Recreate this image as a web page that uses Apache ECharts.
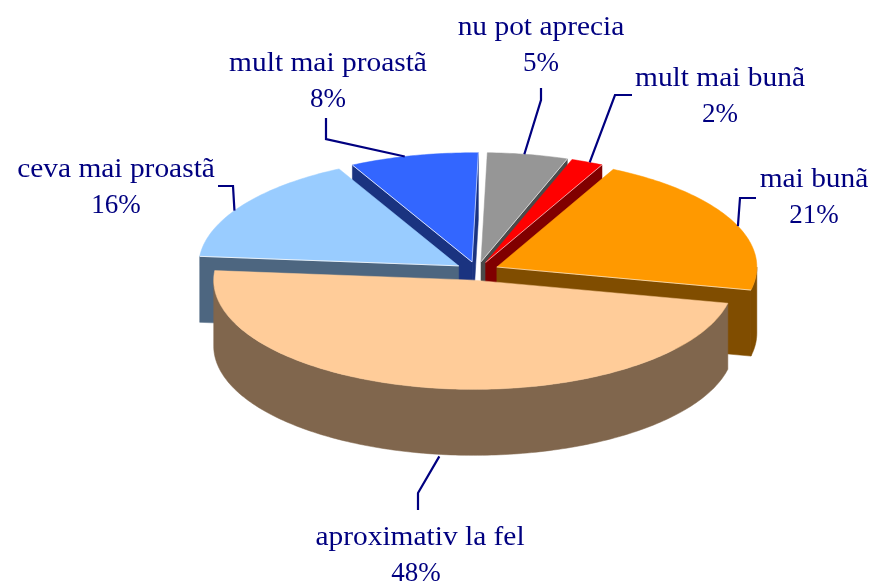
<!DOCTYPE html>
<html>
<head>
<meta charset="utf-8">
<style>html,body{margin:0;padding:0;background:#fff}#c{width:871px;height:584px}</style>
<script src="https://cdn.jsdelivr.net/npm/echarts@6/dist/echarts.min.js"></script>
</head>
<body>
<div id="c"></div>
<script>
// clockwise from the top of the pie
const categories = ['nu pot aprecia', 'mult mai bunã', 'mai bunã', 'aproximativ la fel', 'ceva mai proastã', 'mult mai proastã'];
const values = [5, 2, 21, 48, 16, 8];
const topColors = ['#969696', '#ff0000', '#ff9900', '#ffcc99', '#99ccff', '#3366ff'];
const sideColors = ['#4b4b4b', '#800000', '#804d00', '#80664d', '#4d6680', '#1a3380'];

// layout only
const CX = 477, CY = 271, RX = 260, TILT = 0.42, DEPTH = 66, EXPLODE = 22, START = 1.4;
const labelAt = [[541, 28], [720, 79], [814, 180], [420, 538], [116, 170], [328, 64]];
const labelPctDx = [0, 0, 0, -4, 0, 0];
const NAME_STRETCH = 1.09;
const PCT_DY = 36;
const elbows = [
  [[541, 100], [541, 88]],
  [[615, 95], [632, 95]],
  [[740, 198], [756, 198]],
  [[418, 493], [418, 510]],
  [[233, 186], [218, 186]],
  [[326, 139], [326, 118]]
];
const leaderShift = [-0.8, 0.6, 3.6, -1, -3.4, -2];

const total = values.reduce((a, b) => a + b, 0);
const rad = d => d * Math.PI / 180;
const slices = [];
let acc = START;
values.forEach((v, i) => {
  const a0 = acc, a1 = acc + v / total * 360;
  acc = a1;
  const mid = rad((a0 + a1) / 2);
  slices.push({
    i, a0, a1, mid: (a0 + a1) / 2,
    ax: CX + EXPLODE * Math.sin(mid),
    ay: CY - EXPLODE * Math.cos(mid) * TILT
  });
});
const rim = (s, deg, dz) => [
  s.ax + RX * Math.sin(rad(deg)),
  s.ay - RX * TILT * Math.cos(rad(deg)) + (dz || 0)
];
const arcPts = (s, a0, a1, dz) => {
  const pts = [], n = Math.max(2, Math.ceil(Math.abs(a1 - a0)));
  for (let k = 0; k <= n; k++) pts.push(rim(s, a0 + (a1 - a0) * k / n, dz));
  return pts;
};
const poly = (points, fill) => ({ type: 'polygon', shape: { points }, style: { fill, stroke: fill, lineWidth: 0.5 } });
const line = (a, b, stroke, lineWidth) => ({ type: 'polyline', shape: { points: [a, b] }, style: { stroke, lineWidth, fill: null } });

function renderItem(params) {
  const s = slices[order[params.dataIndex]];
  const side = sideColors[s.i], top = topColors[s.i];
  const kids = [];
  const apex = [s.ax, s.ay], apexB = [s.ax, s.ay + DEPTH];
  // faces of the cut that turn towards the viewer
  const startVis = Math.sin(rad(s.a0)) < 0, endVis = Math.sin(rad(s.a1)) > 0;
  if (startVis) kids.push(poly([apex, rim(s, s.a0), rim(s, s.a0, DEPTH), apexB], side));
  if (endVis) kids.push(poly([apex, rim(s, s.a1), rim(s, s.a1, DEPTH), apexB], side));
  // outer wall: only the part on the near half
  const a = Math.max(s.a0, 90), b = Math.min(s.a1, 270);
  if (b > a) kids.push(poly(arcPts(s, a, b, 0).concat(arcPts(s, b, a, DEPTH)), side));
  kids.push(poly([apex].concat(arcPts(s, s.a0, s.a1)), top));
  if (startVis) kids.push(line(apex, rim(s, s.a0), '#ffffff', 0.8));
  if (endVis) kids.push(line(apex, rim(s, s.a1), '#ffffff', 0.6));
  return { type: 'group', children: kids };
}

// painter's order: far slices first
const order = slices.slice().sort((p, q) => Math.cos(rad(q.mid)) - Math.cos(rad(p.mid))).map(s => s.i);

function renderLabel(params) {
  const s = slices[params.dataIndex];
  const near = Math.cos(rad(s.mid)) < 0;
  const from = rim(s, s.mid + leaderShift[s.i], near ? DEPTH + 2 : 0);
  const el = elbows[s.i], at = labelAt[s.i];
  const font = '27px "Liberation Serif"';
  return {
    type: 'group',
    children: [
      { type: 'polyline', shape: { points: [from].concat(el) }, style: { stroke: '#000080', lineWidth: 2.2, fill: null } },
      { type: 'text', x: at[0], y: at[1], scaleX: NAME_STRETCH, style: { text: categories[s.i], x: 0, y: 0, fill: '#000080', font, align: 'center', verticalAlign: 'middle' } },
      { type: 'text', x: at[0] + labelPctDx[s.i], y: at[1] + PCT_DY, style: { text: values[s.i] + '%', x: 0, y: 0, fill: '#000080', font, align: 'center', verticalAlign: 'middle' } }
    ]
  };
}

const chart = echarts.init(document.getElementById('c'), null, { renderer: 'canvas' });
chart.setOption({
  backgroundColor: '#ffffff',
  animation: false,
  series: [
    { type: 'custom', coordinateSystem: 'none', silent: true, data: order.map(i => values[i]), renderItem, z: 2 },
    { type: 'custom', coordinateSystem: 'none', silent: true, data: values.slice(), renderItem: renderLabel, z: 3 }
  ]
});
</script>
</body>
</html>
